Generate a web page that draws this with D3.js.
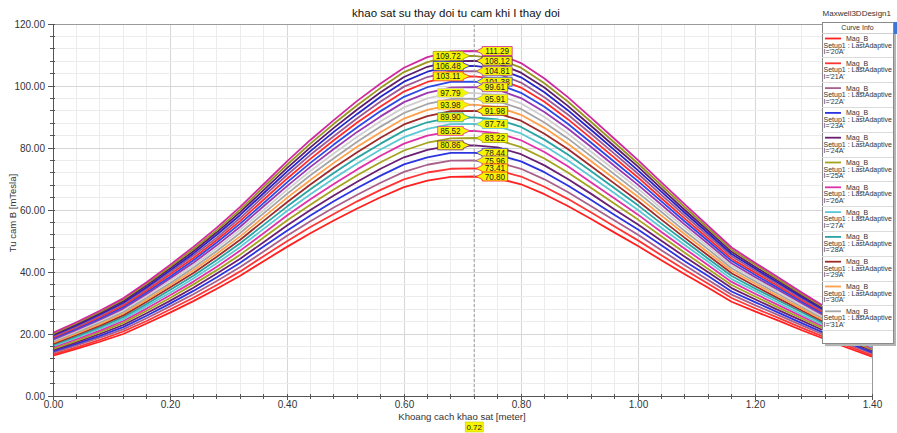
<!DOCTYPE html>
<html><head><meta charset="utf-8">
<script src="https://cdn.jsdelivr.net/npm/d3@7"></script>
<style>
html,body{margin:0;padding:0;background:#fff;}
svg{display:block;font-family:"Liberation Sans",Arial,sans-serif;}
</style></head><body>
<svg id="chart" width="897" height="433"></svg>
<script>
// Sample positions along the survey line [meter]
const xValues = [0.00,0.04,0.08,0.12,0.16,0.20,0.24,0.28,0.32,0.36,0.40,0.44,0.48,0.52,0.56,0.60,0.64,0.68,0.72,0.76,0.80,0.84,0.88,0.92,0.96,1.00,1.04,1.08,1.12,1.16,1.20,1.24,1.28,1.32,1.36,1.40];

// Coil current for each curve
const currents = ["20A","21A","22A","23A","24A","25A","26A","27A","28A","29A","30A","31A","32A","33A","34A","35A","36A","37A","38A","39A","40A"];

// Mag_B [mTesla] along the line, one array per current
const b20A = [13.0,15.2,17.5,20.0,23.4,26.9,30.6,34.6,38.8,43.5,48.1,52.5,56.6,60.5,64.1,67.4,69.5,70.7,70.80,70.2,68.3,65.1,61.3,57.1,52.7,48.4,43.8,39.3,34.9,30.4,27.3,24.3,21.2,18.3,15.4,12.7];
const b21A = [13.4,15.7,18.1,20.8,24.2,27.9,31.7,35.8,40.2,45.1,49.9,54.5,58.7,62.8,66.5,69.9,72.1,73.3,73.41,72.8,70.8,67.5,63.6,59.2,54.7,50.2,45.4,40.7,36.2,31.6,28.3,25.2,22.0,18.9,16.0,13.2];
const b22A = [13.9,16.3,18.8,21.5,25.1,28.9,32.8,37.1,41.6,46.6,51.7,56.4,60.8,64.9,68.8,72.3,74.6,75.9,75.96,75.4,73.3,69.9,65.8,61.2,56.6,52.0,47.0,42.2,37.4,32.7,29.3,26.1,22.8,19.6,16.6,13.7];
const b23A = [14.4,16.8,19.4,22.2,25.9,29.8,33.9,38.3,43.0,48.2,53.3,58.2,62.8,67.1,71.1,74.7,77.0,78.4,78.44,77.8,75.7,72.2,67.9,63.2,58.4,53.7,48.6,43.5,38.7,33.7,30.3,26.9,23.5,20.2,17.1,14.1];
const b24A = [14.8,17.3,20.0,22.9,26.7,30.7,34.9,39.5,44.3,49.6,55.0,60.0,64.7,69.1,73.3,77.0,79.4,80.8,80.86,80.2,78.0,74.4,70.0,65.2,60.2,55.3,50.1,44.9,39.9,34.8,31.2,27.7,24.3,20.9,17.6,14.6];
const b25A = [15.2,17.8,20.6,23.6,27.5,31.6,36.0,40.6,45.6,51.1,56.6,61.7,66.6,71.2,75.4,79.2,81.7,83.1,83.22,82.6,80.3,76.6,72.1,67.1,62.0,56.9,51.5,46.2,41.0,35.8,32.1,28.5,25.0,21.5,18.1,15.0];
const b26A = [15.7,18.3,21.1,24.2,28.2,32.5,36.9,41.7,46.9,52.5,58.2,63.5,68.4,73.1,77.5,81.4,84.0,85.4,85.52,84.8,82.5,78.7,74.1,68.9,63.7,58.5,52.9,47.5,42.2,36.8,33.0,29.3,25.7,22.1,18.6,15.4];
const b27A = [16.1,18.8,21.7,24.8,29.0,33.3,37.9,42.8,48.1,53.9,59.7,65.1,70.2,75.0,79.5,83.5,86.2,87.7,87.74,87.0,84.7,80.7,76.0,70.7,65.4,60.0,54.3,48.7,43.3,37.7,33.9,30.1,26.3,22.6,19.1,15.8];
const b28A = [16.5,19.2,22.2,25.4,29.7,34.2,38.8,43.9,49.3,55.2,61.1,66.7,71.9,76.9,81.4,85.6,88.3,89.8,89.90,89.2,86.8,82.7,77.9,72.5,67.0,61.5,55.6,49.9,44.3,38.7,34.7,30.8,27.0,23.2,19.6,16.2];
const b29A = [16.8,19.7,22.7,26.0,30.4,35.0,39.7,44.9,50.4,56.5,62.5,68.2,73.6,78.6,83.3,87.6,90.3,91.9,91.98,91.2,88.8,84.6,79.7,74.1,68.5,62.9,56.9,51.0,45.3,39.6,35.5,31.5,27.6,23.7,20.1,16.6];
const b30A = [17.2,20.1,23.2,26.6,31.0,35.7,40.6,45.9,51.5,57.7,63.9,69.7,75.2,80.4,85.1,89.5,92.3,93.9,93.98,93.2,90.7,86.5,81.4,75.7,70.0,64.3,58.2,52.2,46.3,40.4,36.3,32.2,28.2,24.2,20.5,16.9];
const b31A = [17.6,20.5,23.7,27.1,31.7,36.4,41.4,46.8,52.6,58.9,65.2,71.2,76.7,82.0,86.9,91.3,94.2,95.8,95.91,95.1,92.6,88.2,83.1,77.3,71.5,65.6,59.4,53.2,47.3,41.2,37.0,32.9,28.8,24.7,20.9,17.3];
const b32A = [17.9,20.9,24.2,27.7,32.3,37.2,42.2,47.7,53.6,60.0,66.5,72.6,78.2,83.6,88.6,93.1,96.0,97.7,97.79,97.0,94.4,90.0,84.7,78.8,72.9,66.9,60.5,54.3,48.2,42.0,37.7,33.5,29.3,25.2,21.3,17.6];
const b33A = [18.2,21.3,24.6,28.2,32.9,37.9,43.0,48.6,54.6,61.2,67.7,73.9,79.7,85.2,90.2,94.8,97.8,99.5,99.61,98.8,96.1,91.6,86.3,80.3,74.2,68.1,61.7,55.3,49.1,42.8,38.4,34.2,29.9,25.7,21.7,17.9];
const b34A = [18.6,21.7,25.0,28.7,33.5,38.5,43.8,49.5,55.6,62.2,68.9,75.2,81.1,86.7,91.9,96.5,99.6,101.3,101.38,100.6,97.8,93.3,87.8,81.7,75.5,69.3,62.8,56.3,50.0,43.6,39.1,34.8,30.4,26.2,22.1,18.2];
const b35A = [18.9,22.1,25.5,29.2,34.0,39.2,44.5,50.3,56.5,63.3,70.1,76.5,82.5,88.2,93.4,98.2,101.3,103.0,103.11,102.3,99.5,94.9,89.3,83.1,76.8,70.5,63.8,57.2,50.8,44.3,39.8,35.4,30.9,26.6,22.5,18.6];
const b36A = [19.2,22.4,25.9,29.7,34.6,39.8,45.3,51.1,57.4,64.4,71.3,77.8,83.8,89.6,95.0,99.8,102.9,104.7,104.81,104.0,101.1,96.4,90.8,84.5,78.1,71.7,64.9,58.2,51.7,45.1,40.5,36.0,31.4,27.0,22.8,18.9];
const b37A = [19.5,22.8,26.3,30.1,35.1,40.5,46.0,52.0,58.4,65.4,72.4,79.0,85.2,91.0,96.5,101.4,104.6,106.4,106.48,105.6,102.8,98.0,92.2,85.8,79.3,72.8,65.9,59.1,52.5,45.8,41.1,36.5,31.9,27.5,23.2,19.2];
const b38A = [19.8,23.1,26.7,30.6,35.7,41.1,46.7,52.8,59.3,66.4,73.5,80.2,86.5,92.4,98.0,102.9,106.2,108.0,108.12,107.3,104.3,99.5,93.6,87.1,80.5,74.0,66.9,60.0,53.3,46.5,41.7,37.1,32.4,27.9,23.6,19.5];
const b39A = [20.1,23.5,27.1,31.1,36.2,41.7,47.4,53.5,60.1,67.4,74.6,81.4,87.8,93.8,99.4,104.5,107.7,109.6,109.72,108.8,105.9,100.9,95.0,88.4,81.7,75.0,67.9,60.9,54.1,47.2,42.4,37.6,32.9,28.3,23.9,19.7];
const b40A = [20.4,23.8,27.5,31.5,36.7,42.3,48.1,54.3,61.0,68.3,75.7,82.6,89.0,95.2,100.8,105.9,109.3,111.2,111.29,110.4,107.4,102.4,96.4,89.7,82.9,76.1,68.9,61.8,54.9,47.9,43.0,38.2,33.4,28.7,24.3,20.0];

const seriesValues = [b20A,b21A,b22A,b23A,b24A,b25A,b26A,b27A,b28A,b29A,b30A,b31A,b32A,b33A,b34A,b35A,b36A,b37A,b38A,b39A,b40A];

// Curve colours, same order as currents
const seriesColors = ["#ff2020","#ff3434","#a8608a","#2c34e0","#6a1f72","#a3a31c","#e030a8","#5cc8d4","#2aa3a3","#a02a2a","#ffa04a","#a4a4a4",
                      "#cfcfcf","#9a38b0","#2a48e6","#ff2a2a","#9c5a92","#2424c8","#5c1c6c","#96961e","#d0289e"];

// Side of the marker on which each value flag sits
const labelSides = ["R","R","R","R","L","R","L","R","L","R","L","R","L","R","R","L","R","L","R","L","R"];

const markerX = 0.72;
const xTickLabels = [0.00,0.20,0.40,0.60,0.80,1.00,1.20,1.40];
const yTickLabels = [0,20,40,60,80,100,120];

const titleText = "khao sat su thay doi tu cam khi I thay doi";
const designName = "Maxwell3DDesign1";
const xAxisTitle = "Khoang cach khao sat [meter]";
const yAxisTitle = "Tu cam B [mTesla]";

const svg = d3.select("#chart");
const W = 897, H = 433;
const plot = {left: 53, right: 872, top: 24, bottom: 396};

const x = d3.scaleLinear().domain([0, 1.4]).range([plot.left, plot.right]);
const y = d3.scaleLinear().domain([0, 120]).range([plot.bottom, plot.top]);

svg.append("rect").attr("width", W).attr("height", H).attr("fill", "#fff");

// Grid
const xMinor = d3.range(0, 36).map(i => +(i * 0.04).toFixed(2));
const yMinor = d3.range(0, 31).map(i => i * 4);
const grid = svg.append("g");
grid.selectAll("line.gx").data(xMinor).join("line")
  .attr("x1", d => x(d)).attr("x2", d => x(d))
  .attr("y1", plot.top).attr("y2", plot.bottom)
  .attr("stroke", d => (Math.abs(d / 0.2 - Math.round(d / 0.2)) < 1e-6) ? "#d6d6d6" : "#ececec")
  .attr("stroke-width", 1).attr("shape-rendering", "crispEdges");
grid.selectAll("line.gy").data(yMinor).join("line")
  .attr("x1", plot.left).attr("x2", plot.right)
  .attr("y1", d => y(d)).attr("y2", d => y(d))
  .attr("stroke", d => d % 20 === 0 ? "#d6d6d6" : "#ececec")
  .attr("stroke-width", 1).attr("shape-rendering", "crispEdges");

// Frame
svg.append("rect").attr("x", plot.left).attr("y", plot.top)
  .attr("width", plot.right - plot.left).attr("height", plot.bottom - plot.top)
  .attr("fill", "none").attr("stroke", "#9a9a9a").attr("shape-rendering", "crispEdges");

// Curves
const line = d3.line().x((d, i) => x(xValues[i])).y(d => y(d));
const curves = svg.append("g");
seriesValues.forEach((vals, k) => {
  curves.append("path").datum(vals)
    .attr("d", line).attr("fill", "none")
    .attr("stroke", seriesColors[k]).attr("stroke-width", 1.8)
    .attr("stroke-linejoin", "round");
});

// Axes
const xAxis = d3.axisBottom(x).tickValues(xTickLabels).tickFormat(d3.format(".2f")).tickSize(4).tickPadding(1);
const gx = svg.append("g").attr("transform", `translate(0,${plot.bottom})`).call(xAxis);
const yAxis = d3.axisLeft(y).tickValues(yTickLabels).tickFormat(d3.format(".2f")).tickSize(5).tickPadding(3);
const gy = svg.append("g").attr("transform", `translate(${plot.left},0)`).call(yAxis);
[gx, gy].forEach(g => {
  g.select(".domain").attr("stroke", "#555");
  g.selectAll(".tick line").attr("stroke", "#555");
  g.selectAll(".tick text").attr("fill", "#333").attr("font-size", 10)
    .attr("font-family", "'Liberation Sans', Arial, sans-serif");
});
svg.append("g").selectAll("line").data(xMinor).join("line")
  .attr("x1", d => x(d)).attr("x2", d => x(d))
  .attr("y1", plot.bottom - 2).attr("y2", plot.bottom + 3)
  .attr("stroke", "#555").attr("shape-rendering", "crispEdges");
svg.append("g").selectAll("line").data(yMinor).join("line")
  .attr("x1", plot.left - 3).attr("x2", plot.left + 2)
  .attr("y1", d => y(d)).attr("y2", d => y(d))
  .attr("stroke", "#555").attr("shape-rendering", "crispEdges");

// Titles
svg.append("text").attr("x", 456).attr("y", 17).attr("text-anchor", "middle")
  .attr("font-size", 11.5).attr("fill", "#111").text(titleText);
svg.append("text").attr("x", 891).attr("y", 16).attr("text-anchor", "end")
  .attr("font-size", 8).attr("fill", "#333").text(designName);
svg.append("text").attr("x", 462).attr("y", 420).attr("text-anchor", "middle")
  .attr("font-size", 9.6).attr("fill", "#333").text(xAxisTitle);
svg.append("text").attr("transform", "translate(16,213) rotate(-90)").attr("text-anchor", "middle")
  .attr("font-size", 9.5).attr("fill", "#333").text(yAxisTitle);

// Marker at x = 0.72
const mx = x(markerX);
svg.append("line").attr("x1", mx).attr("x2", mx).attr("y1", plot.top).attr("y2", plot.bottom)
  .attr("stroke", "#9a9a9a").attr("stroke-dasharray", "3,2");
const markerIdx = xValues.indexOf(markerX);

const flags = svg.append("g").attr("font-size", 8.2);
for (let k = seriesValues.length - 1; k >= 0; k--) {
  const v = seriesValues[k][markerIdx];
  const cy = y(v);
  const txt = v.toFixed(2);
  const w = txt.length * 4.5 + 3, h = 9;
  const side = labelSides[k];
  let tip, bx, path;
  if (side === "R") {
    tip = mx + 2; bx = mx + 8;
    path = `M${tip},${cy}L${bx},${cy - 3}L${bx},${cy - h / 2}L${bx + w},${cy - h / 2}L${bx + w},${cy + h / 2}L${bx},${cy + h / 2}L${bx},${cy + 3}Z`;
  } else {
    tip = mx - 4; bx = mx - 11 - w;
    path = `M${tip},${cy}L${bx + w},${cy - 3}L${bx + w},${cy - h / 2}L${bx},${cy - h / 2}L${bx},${cy + h / 2}L${bx + w},${cy + h / 2}L${bx + w},${cy + 3}Z`;
  }
  flags.append("path").attr("d", path).attr("fill", "#f6f400")
    .attr("stroke", seriesColors[k]).attr("stroke-width", 0.8);
  flags.append("text").attr("x", bx + w / 2).attr("y", cy + 3).attr("text-anchor", "middle")
    .attr("fill", "#222").text(txt);
}

// Marker position flag below the axis title
const posTxt = markerX.toFixed(2);
svg.append("rect").attr("x", mx - 9).attr("y", 422).attr("width", 18).attr("height", 10)
  .attr("fill", "#f6f400").attr("stroke", "#c8c800").attr("stroke-width", 0.6);
svg.append("text").attr("x", mx).attr("y", 430).attr("text-anchor", "middle")
  .attr("font-size", 8).attr("fill", "#222").text(posTxt);

// Legend (only the rows that fit in the panel are shown)
const lg = {x: 822, y: 22, w: 71, h: 321};
svg.append("rect").attr("x", lg.x + 3).attr("y", lg.y + 3).attr("width", lg.w).attr("height", lg.h)
  .attr("fill", "#b4b4b4");
svg.append("rect").attr("x", lg.x).attr("y", lg.y).attr("width", lg.w).attr("height", lg.h)
  .attr("fill", "#fff").attr("stroke", "#8a8a8a").attr("shape-rendering", "crispEdges");
svg.append("rect").attr("x", 894).attr("y", 22).attr("width", 3).attr("height", 12).attr("fill", "#3a78d8");
const legend = svg.append("g").attr("font-size", 7).attr("fill", "#333");
legend.append("text").attr("x", lg.x + lg.w / 2).attr("y", lg.y + 8).attr("text-anchor", "middle").text("Curve Info");
legend.append("line").attr("x1", lg.x).attr("x2", lg.x + lg.w).attr("y1", lg.y + 11).attr("y2", lg.y + 11)
  .attr("stroke", "#cfcfcf").attr("shape-rendering", "crispEdges");
const rowH = 24.8;
const rowsShown = Math.floor((lg.h - 13) / rowH);
currents.slice(0, rowsShown).forEach((c, j) => {
  const top = lg.y + 11 + rowH * j;
  legend.append("line").attr("x1", lg.x + 3).attr("x2", lg.x + 19).attr("y1", top + 5.5).attr("y2", top + 5.5)
    .attr("stroke", seriesColors[j]).attr("stroke-width", 1.8);
  legend.append("text").attr("x", lg.x + 24).attr("y", top + 8).text("Mag_B");
  legend.append("text").attr("x", lg.x + 1.5).attr("y", top + 14.5).text("Setup1 : LastAdaptive");
  legend.append("text").attr("x", lg.x + 1.5).attr("y", top + 21).text(`I='${c}'`);
  legend.append("line").attr("x1", lg.x).attr("x2", lg.x + lg.w).attr("y1", top + rowH).attr("y2", top + rowH)
    .attr("stroke", "#dcdcdc").attr("shape-rendering", "crispEdges");
});
</script>
</body></html>
